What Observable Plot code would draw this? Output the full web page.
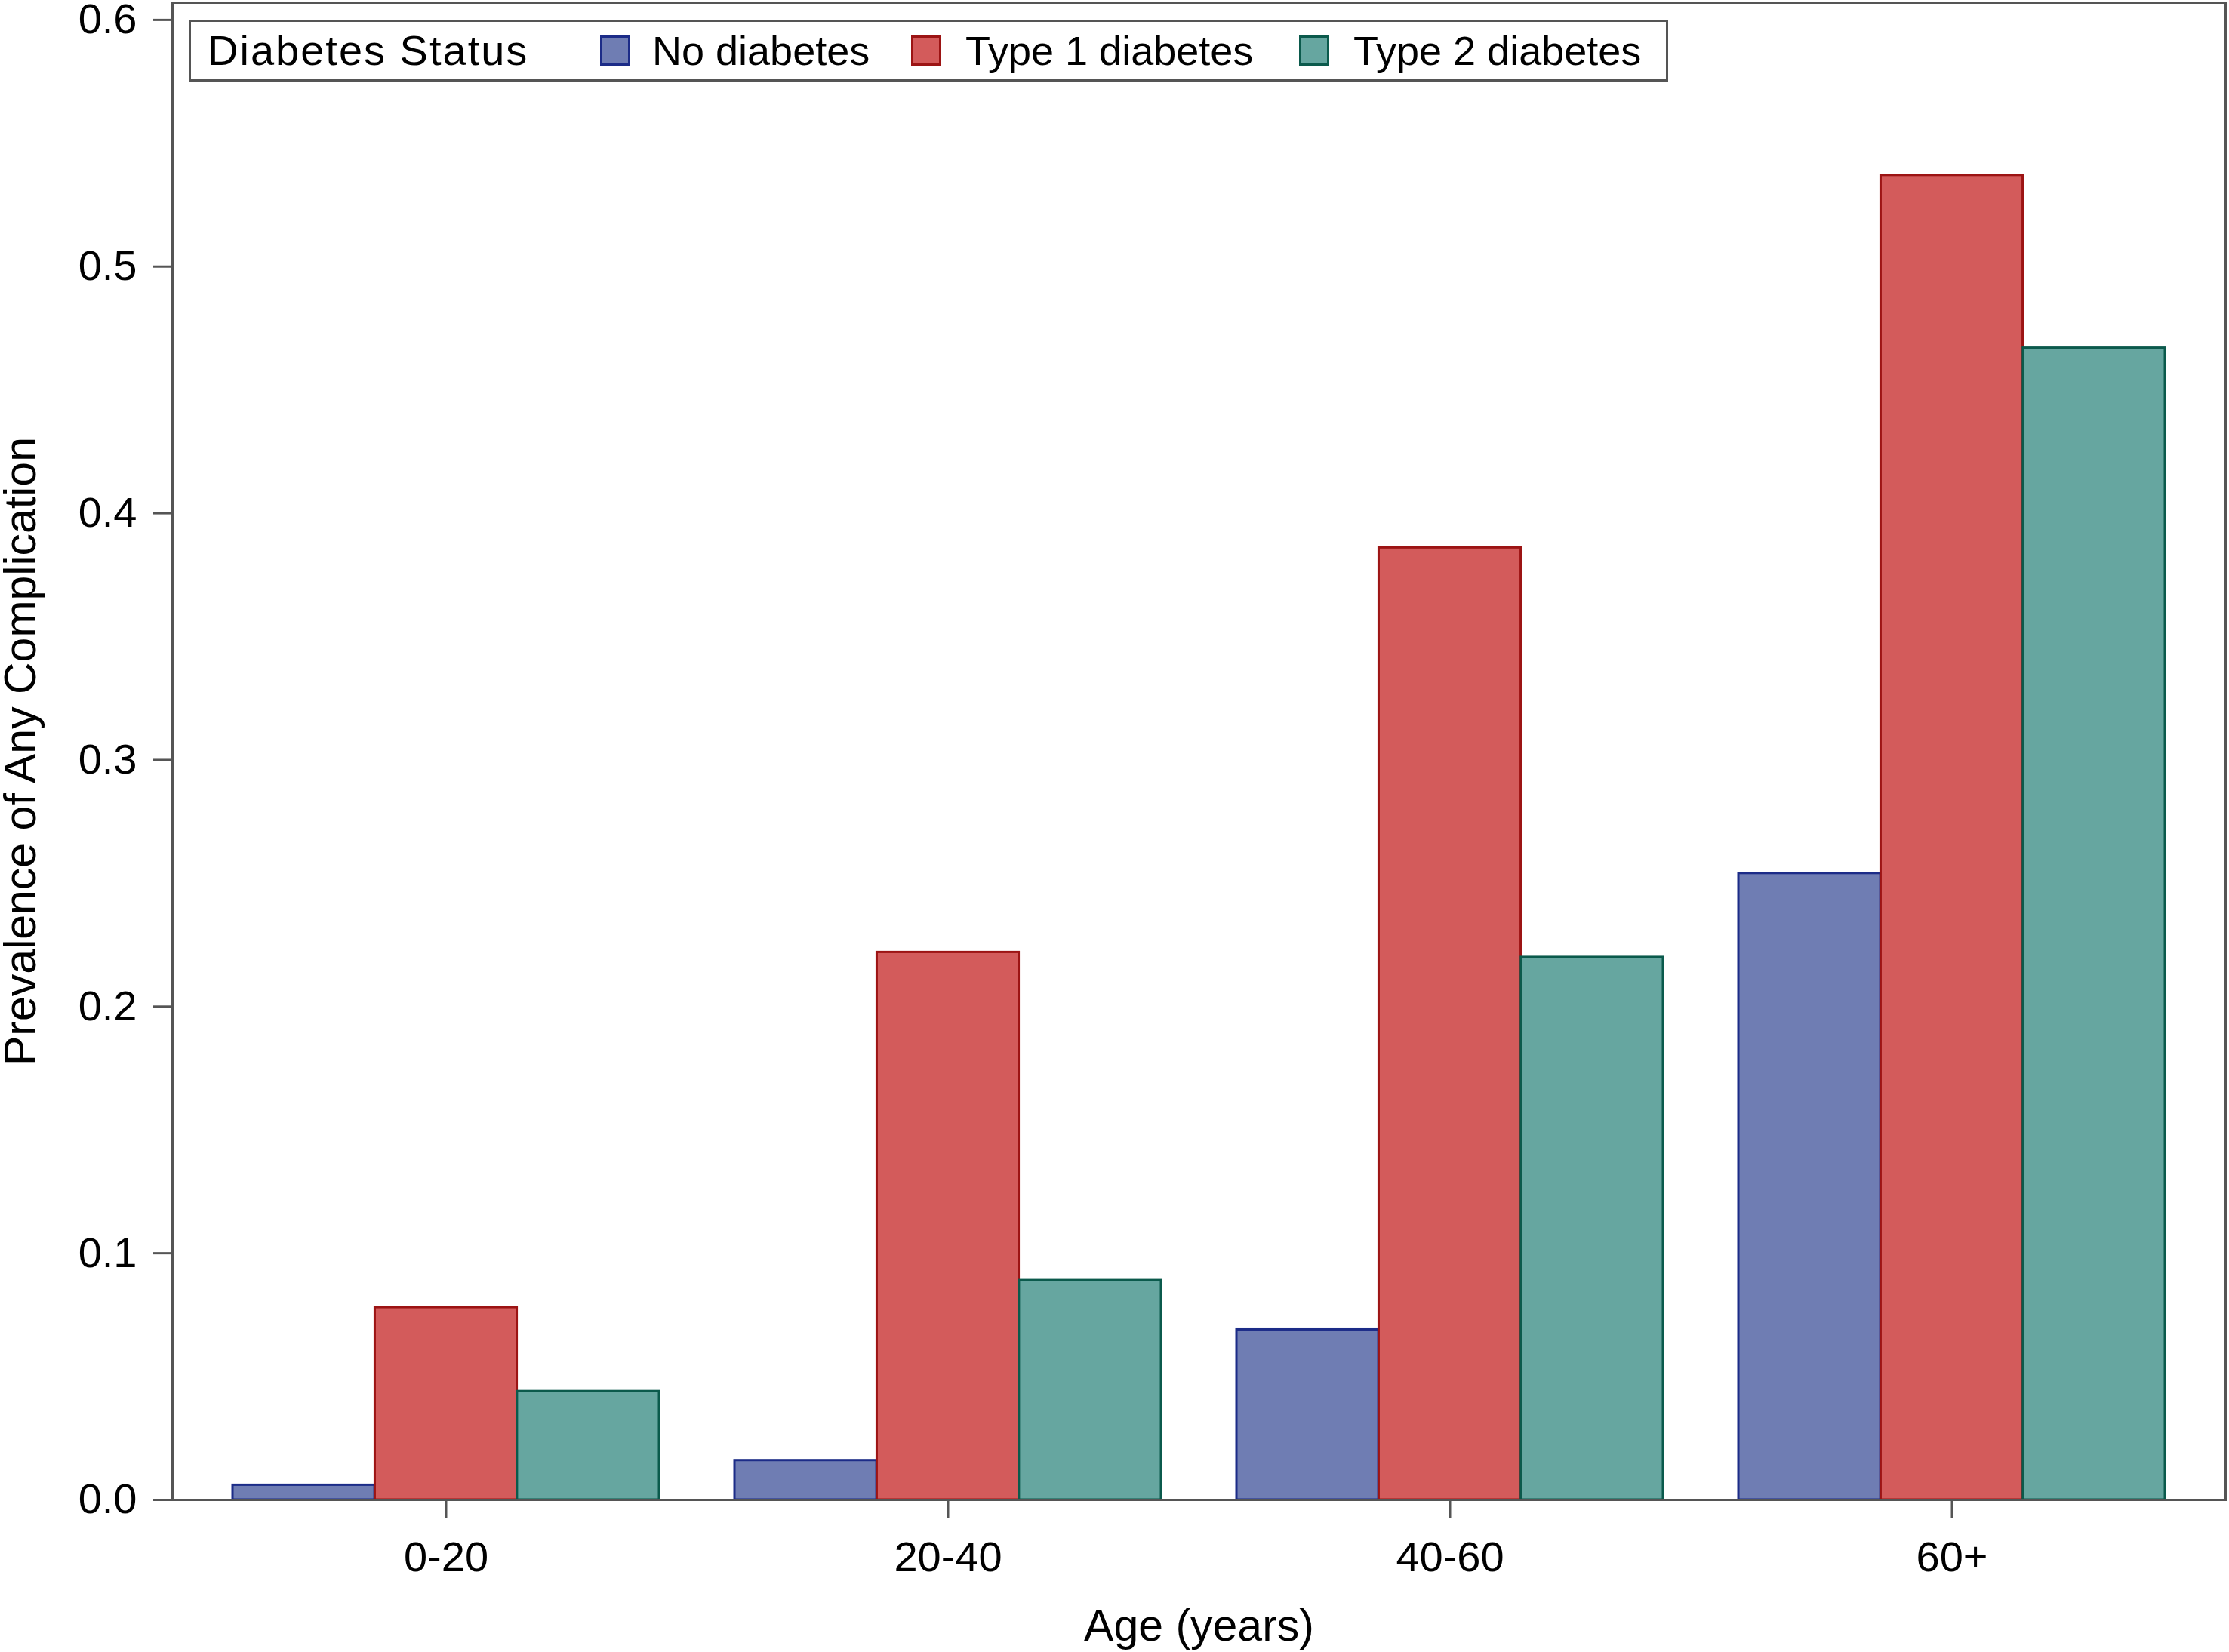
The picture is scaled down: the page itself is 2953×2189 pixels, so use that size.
<!DOCTYPE html>
<html>
<head>
<meta charset="utf-8">
<script src="https://cdn.jsdelivr.net/npm/d3@7"></script>
<script src="https://cdn.jsdelivr.net/npm/@observablehq/plot@0.6"></script>
<style>
  html, body { margin: 0; padding: 0; background: #ffffff; }
  #wrap { position: relative; width: 2953px; height: 2189px; }
  #legend {
    position: absolute; left: 250px; top: 26px; width: 1960px; height: 82px;
    box-sizing: border-box; border: 3px solid #555555; background: #ffffff;
    font-family: "Liberation Sans", Arial, sans-serif; color: #000;
  }
  #legend .t { position: absolute; top: 50%; transform: translateY(-50%); white-space: nowrap; line-height: 1; }
  #legend .sw { position: absolute; top: 50%; transform: translateY(-50%); width: 40px; height: 40px; box-sizing: border-box; border: 3px solid; }
</style>
</head>
<body>
<div id="wrap"></div>
<script>
// ---- data ----
const ageGroups = ["0-20", "20-40", "40-60", "60+"];
const statuses = ["No diabetes", "Type 1 diabetes", "Type 2 diabetes"];
const noDiabetes = [0.006, 0.016, 0.069, 0.254];
const type1Diabetes = [0.078, 0.222, 0.386, 0.537];
const type2Diabetes = [0.044, 0.089, 0.220, 0.467];
const yTicks = [0, 0.1, 0.2, 0.3, 0.4, 0.5, 0.6];
const legendTitle = "Diabetes Status";
const yLabel = "Prevalence of Any Complication";
const xLabel = "Age (years)";

// ---- styles ----
const fills = ["#6f7db3", "#d35b5b", "#66a6a0"];
const strokes = ["#1c2c88", "#9c1414", "#0b5a4c"];
const seriesValues = [noDiabetes, type1Diabetes, type2Diabetes];

const W = 2953, H = 2189;
const mL = 228, mR = 5, mT = 3, mB = 202;
const padIn = 0.15, padOut = 0.12;

// band width of an age group (same band scale that Plot builds for x)
const bw = d3.scaleBand().domain(ageGroups).range([mL, W - mR])
  .paddingInner(padIn).paddingOuter(padOut).bandwidth();
const sub = bw / statuses.length;

const rows = statuses.map((s, k) =>
  ageGroups.map((a, i) => ({age: a, status: s, value: seriesValues[k][i]}))
);

const font = "'Liberation Sans', Arial, sans-serif";

const chart = Plot.plot({
  width: W,
  height: H,
  marginLeft: mL,
  marginRight: mR,
  marginTop: mT,
  marginBottom: mB,
  style: {fontFamily: font, fontSize: "56px", color: "#000", background: "#fff", overflow: "visible"},
  x: {domain: ageGroups, paddingInner: padIn, paddingOuter: padOut, align: 0.5},
  y: {domain: [0, 0.607]},
  marks: [
    ...rows.map((r, k) => Plot.barY(r, {
      x: "age", y: "value",
      insetLeft: k * sub, insetRight: (statuses.length - 1 - k) * sub,
      fill: fills[k], stroke: strokes[k], strokeWidth: 3
    })),
    Plot.frame({stroke: "#555555", strokeWidth: 3}),
    Plot.axisY({
      ticks: yTicks, tickFormat: d3.format(".1f"),
      tickSize: 25, tickPadding: 22, stroke: "#555555", strokeWidth: 3,
      label: yLabel, labelAnchor: "center", labelArrow: "none", labelOffset: 223, fontSize: 56
    }),
    Plot.axisX({
      tickSize: 25, tickPadding: 30,
      stroke: "#555555", strokeWidth: 3, fontSize: 56,
      label: xLabel, labelAnchor: "center", labelArrow: "none", labelOffset: 186
    })
  ]
});

// axis titles slightly larger than tick labels
chart.querySelectorAll("text").forEach(t => {
  if (t.textContent === yLabel || t.textContent === xLabel) t.setAttribute("font-size", 59);
});

const wrap = document.getElementById("wrap");
wrap.appendChild(chart);

// ---- legend (HTML, over the plot area) ----
const legend = document.createElement("div");
legend.id = "legend";
const title = document.createElement("span");
title.className = "t";
title.textContent = legendTitle;
title.style.left = "22px";
title.style.fontSize = "56px";
title.style.letterSpacing = "2px";
legend.appendChild(title);
const swatchLeft = [542, 954, 1468];
const textLeft = [611, 1026, 1540];
statuses.forEach((s, k) => {
  const sw = document.createElement("span");
  sw.className = "sw";
  sw.style.left = swatchLeft[k] + "px";
  sw.style.background = fills[k];
  sw.style.borderColor = strokes[k];
  legend.appendChild(sw);
  const t = document.createElement("span");
  t.className = "t";
  t.style.left = textLeft[k] + "px";
  t.style.fontSize = "54px";
  t.textContent = s;
  legend.appendChild(t);
});
wrap.appendChild(legend);
</script>
</body>
</html>
